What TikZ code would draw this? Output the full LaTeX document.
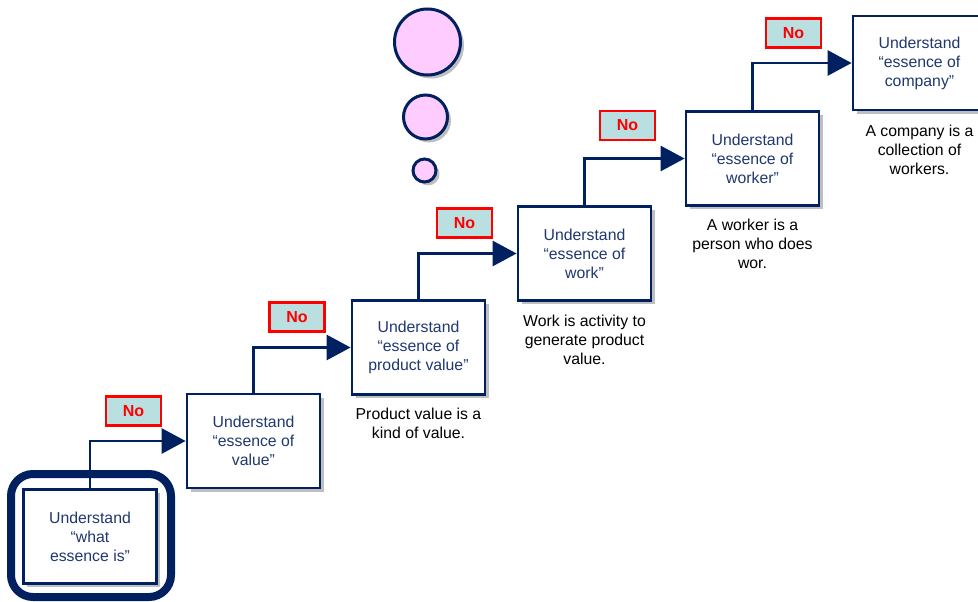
\documentclass[tikz,border=0pt]{standalone}
\usepackage{fontspec}
\setmainfont{Liberation Sans}
\usetikzlibrary{arrows.meta,shadows}
\definecolor{navy}{HTML}{002060}
\definecolor{boxtext}{HTML}{1F3870}
\definecolor{nofill}{HTML}{B9DFE1}
\definecolor{bubble}{HTML}{FFCCFF}
\tikzset{
  softshadow/.style={drop shadow={shadow xshift=3.5pt,shadow yshift=-3.5pt,fill=black!50,opacity=0.5}},
  stepbox/.style={draw=navy,line width=2.8pt,fill=white,minimum width=133pt,minimum height=94pt,
    align=center,text=boxtext,font=\fontsize{15.8}{19}\selectfont,inner sep=2pt,softshadow},
  nolabel/.style={draw=red,line width=2.2pt,fill=nofill,minimum width=55pt,minimum height=29pt,
    text=red,font=\fontsize{16}{18}\selectfont\bfseries,inner sep=0pt},
  caption/.style={align=center,text=black,font=\fontsize{15.8}{19}\selectfont,inner sep=0pt,anchor=north},
  link/.style={draw=navy,line width=2.8pt,-{Triangle[length=24pt,width=25pt]}},
  bubblestyle/.style={draw=navy,line width=3pt,fill=bubble,softshadow}
}
\begin{document}
\begin{tikzpicture}[x=1pt,y=-1pt]
\useasboundingbox (0,0) rectangle (978,602);

% thought bubbles
\node[bubblestyle,circle,minimum size=66pt,inner sep=0pt] (bub1) at (427.5,42) {};
\node[bubblestyle,circle,minimum size=44pt,inner sep=0pt] (bub2) at (425.5,117) {};
\node[bubblestyle,circle,minimum size=23pt,inner sep=0pt] (bub3) at (424.5,170.5) {};

% frame around the starting step
\draw[navy,line width=8pt,rounded corners=22pt] (11,474) rectangle (171,597);

% steps
\node[stepbox] (s1) at (90,536.5) {Understand\\“what\\essence is”};
\node[stepbox] (s2) at (253.5,441) {Understand\\“essence of\\value”};
\node[stepbox] (s3) at (418.5,347.5) {Understand\\“essence of\\product value”};
\node[stepbox] (s4) at (584.5,253.5) {Understand\\“essence of\\work”};
\node[stepbox] (s5) at (752.5,158.5) {Understand\\“essence of\\worker”};
\node[stepbox] (s6) at (919.5,63) {Understand\\“essence of\\company”};

% connectors
\draw[link] (s1.north) |- (s2.west);
\draw[link] (s2.north) |- (s3.west);
\draw[link] (s3.north) |- (s4.west);
\draw[link] (s4.north) |- (s5.west);
\draw[link] (s5.north) |- (s6.west);

% "No" tags
\node[nolabel] (n1) at (133.5,411) {No};
\node[nolabel] (n2) at (297,317) {No};
\node[nolabel] (n3) at (464.5,223) {No};
\node[nolabel] (n4) at (627.5,125.5) {No};
\node[nolabel] (n5) at (793.5,33) {No};

% captions
\node[caption] (c3) at ([yshift=-12pt]s3.south) {Product value is a\\kind of value.};
\node[caption] (c4) at ([yshift=-13pt]s4.south) {Work is activity to\\generate product\\value.};
\node[caption] (c5) at ([yshift=-12pt]s5.south) {A worker is a\\person who does\\wor.};
\node[caption] (c6) at ([yshift=-13pt]s6.south) {A company is a\\collection of\\workers.};
\end{tikzpicture}
\end{document}
